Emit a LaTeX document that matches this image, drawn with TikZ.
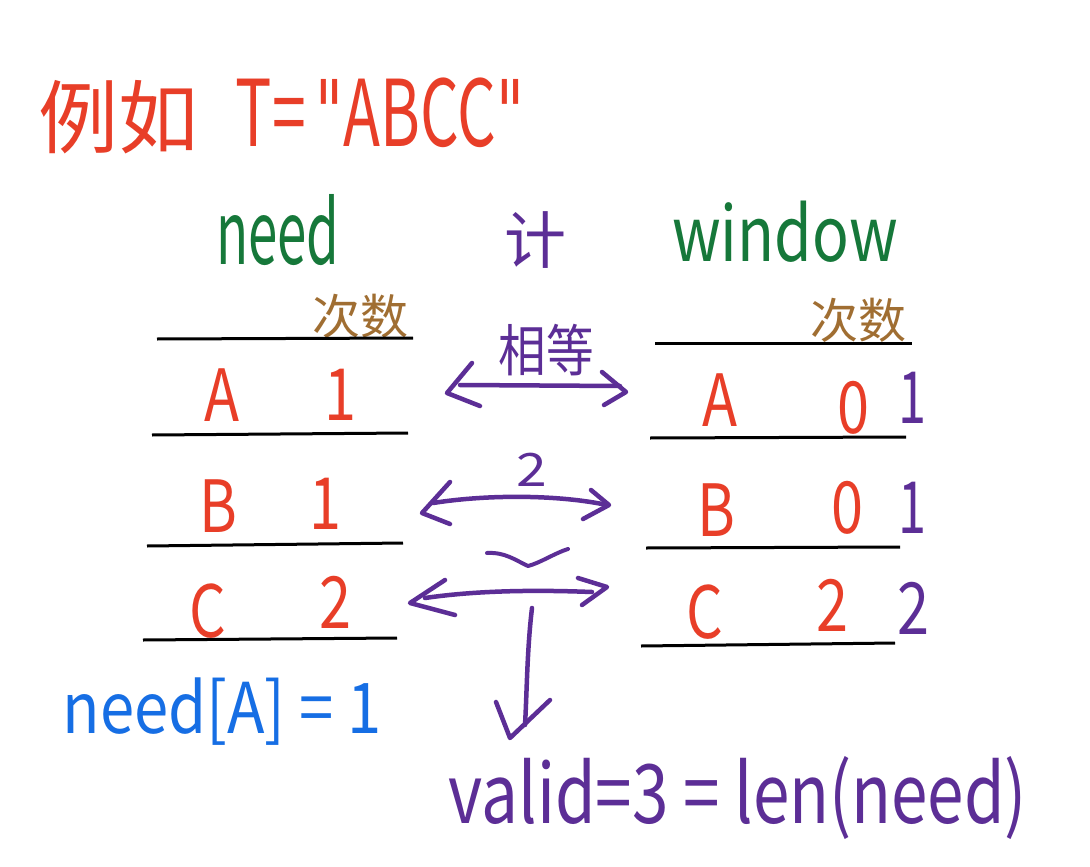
\documentclass[tikz,border=0pt]{standalone}
\usepackage{fontspec}
\setmainfont{Noto Sans CJK SC}
\newfontfamily\qf{DejaVu Sans}
\definecolor{hred}{RGB}{232,62,40}
\definecolor{hgreen}{RGB}{22,120,58}
\definecolor{hpurp}{RGB}{92,46,150}
\definecolor{hbrown}{RGB}{160,110,50}
\definecolor{hblue}{RGB}{22,110,228}
\tikzset{
  txt/.style={inner sep=0pt, outer sep=0pt},
  rowline/.style={draw=black, line width=3pt},
  hand/.style={draw=hpurp, line width=4.5pt, line cap=round, line join=round},
}
\newcommand{\hs}[2]{\scalebox{#1}[1]{#2}}
\newcommand{\dq}{{\qf\char"0022}}
\begin{document}
\begin{tikzpicture}[x=1pt,y=-1pt]
\useasboundingbox[fill=white] (0,0) rectangle (1090,867);
% title
\node[txt, text=hred, font=\fontsize{80}{84}\selectfont] (t1) at (118,117) {例如};
\node[txt, text=hred, font=\fontsize{92}{96}\selectfont] (t2) at (380,113) {\hs{0.66}{T=\,\dq ABCC\dq}};
% headings
\node[txt, text=hgreen, font=\fontsize{88}{92}\selectfont] (need) at (278,230) {\hs{0.6}{need}};
\node[txt, text=hpurp, font=\fontsize{62}{66}\selectfont] (cmp) at (535,240) {计};
\node[txt, text=hgreen, font=\fontsize{76}{80}\selectfont] (win) at (785,232) {\hs{0.8}{window}};
% left table
\node[txt, text=hbrown, font=\fontsize{48}{50}\selectfont] (lc) at (360,316) {次数};
\coordinate (l1a) at (157,339); \coordinate (l1b) at (413,338);
\coordinate (l2a) at (152,435); \coordinate (l2b) at (408,433);
\coordinate (l3a) at (147,546); \coordinate (l3b) at (403,543);
\coordinate (l4a) at (143,640); \coordinate (l4b) at (397,638);
\draw[rowline] (l1a) -- (l1b);
\draw[rowline] (l2a) -- (l2b);
\draw[rowline] (l3a) -- (l3b);
\draw[rowline] (l4a) -- (l4b);
\tikzset{cell/.style={txt, text=hred, font=\fontsize{72}{76}\selectfont}}
\node[cell] (lA) at (222,395) {\hs{0.8}{A}};
\node[cell] (lA1) at (340,395) {\hs{0.8}{1}};
\node[cell] (lB) at (218,506) {\hs{0.8}{B}};
\node[cell] (lB1) at (325,504) {\hs{0.8}{1}};
\node[cell] (lC) at (208,611) {\hs{0.8}{C}};
\node[cell] (lC2) at (335,602) {\hs{0.8}{2}};
% right table
\node[txt, text=hbrown, font=\fontsize{48}{50}\selectfont] (rc) at (858,320) {次数};
\coordinate (r1a) at (655,343); \coordinate (r1b) at (912,343);
\coordinate (r2a) at (650,438); \coordinate (r2b) at (906,437);
\coordinate (r3a) at (646,548); \coordinate (r3b) at (900,547);
\coordinate (r4a) at (641,646); \coordinate (r4b) at (895,643);
\draw[rowline] (r1a) -- (r1b);
\draw[rowline] (r2a) -- (r2b);
\draw[rowline] (r3a) -- (r3b);
\draw[rowline] (r4a) -- (r4b);
\node[cell] (rA) at (720,400) {\hs{0.8}{A}};
\node[cell] (rA0) at (853,408) {\hs{0.8}{0}};
\node[cell, text=hpurp] (rA1) at (912,398) {\hs{0.7}{1}};
\node[cell] (rB) at (716,510) {\hs{0.8}{B}};
\node[cell] (rB0) at (847,508) {\hs{0.8}{0}};
\node[cell, text=hpurp] (rB1) at (912,508) {\hs{0.7}{1}};
\node[cell] (rC) at (705,612) {\hs{0.8}{C}};
\node[cell] (rC2) at (832,605) {\hs{0.8}{2}};
\node[cell, text=hpurp] (rC3) at (913,608) {\hs{0.8}{2}};
% arrow 1
\node[txt, text=hpurp, font=\fontsize{56}{60}\selectfont] (eq) at (546,350) {\hs{0.85}{相等}};
\coordinate (a1l) at (460,385); \coordinate (a1r) at (620,386);
\draw[hand] (a1l) -- (a1r);
\draw[hand] (472,363) -- (447,393) -- (480,406);
\draw[hand] (602,372) -- (626,392) -- (604,405);
% arrow 2
\node[txt, text=hpurp, font=\fontsize{46}{50}\selectfont] (n2) at (532,470) {\hs{1.2}{2}};
\coordinate (a2l) at (433,503); \coordinate (a2r) at (607,505);
\draw[hand] (a2l) .. controls (490,494) and (560,495) .. (a2r);
\draw[hand] (450,482) -- (422,513) -- (450,524);
\draw[hand] (591,490) -- (609,505) -- (583,519);
% arrow 3
\draw[hand, line width=4pt] (487,553) .. controls (505,552) and (515,560) .. (528,566) .. controls (540,563) and (555,553) .. (568,549);
\coordinate (a3l) at (425,598); \coordinate (a3r) at (592,592);
\draw[hand] (a3l) .. controls (480,590) and (540,590) .. (a3r);
\draw[hand] (445,580) -- (410,603) -- (455,615);
\draw[hand] (578,578) -- (607,587) -- (582,605);
% down arrow
\coordinate (dtop) at (532,608); \coordinate (dbot) at (525,725);
\draw[hand] (dtop) .. controls (527,650) and (527,690) .. (dbot);
\draw[hand] (496,702) -- (510,738) -- (550,700);
% bottom notes
\node[txt, text=hblue, font=\fontsize{70}{74}\selectfont] (na) at (222,712) {\hs{0.88}{need[A] = 1}};
\node[txt, text=hpurp, font=\fontsize{82}{86}\selectfont] (val) at (738,798) {\hs{0.8}{valid=3 = len(need)}};
\end{tikzpicture}
\end{document}
